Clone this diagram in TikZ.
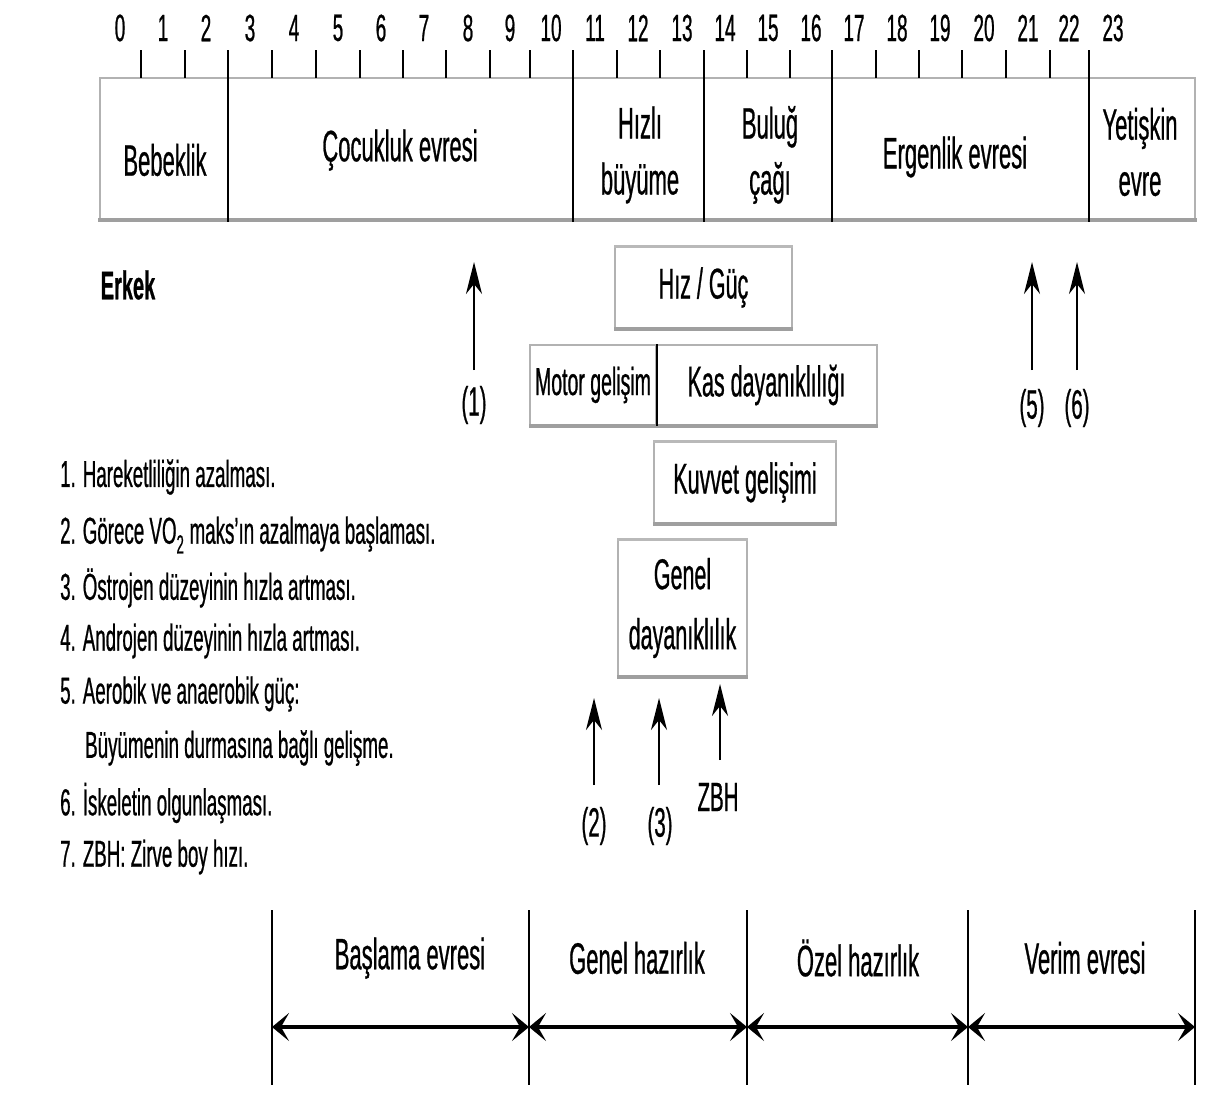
\documentclass[tikz,border=0pt]{standalone}
\usepackage{fontspec}
\setmainfont{Liberation Sans}[FakeStretch=0.5, FakeBold=0.6]
\usetikzlibrary{arrows.meta}
\tikzset{
  lbl/.style={font=\fontsize{44}{56}\selectfont, align=center, inner sep=0pt},
  num/.style={font=\fontsize{38}{42}\selectfont, inner sep=0pt},
  leg/.style={font=\fontsize{37.5}{42}\selectfont, anchor=west, inner sep=0pt},
  marklbl/.style={font=\fontsize{41}{46}\selectfont, inner sep=0pt},
  blk/.style={draw=gray!60, line width=1.2pt, inner sep=0pt, align=center,
    font=\fontsize{43}{60}\selectfont},
  topln/.style={gray!55, line width=3pt},
  botln/.style={gray!75, line width=4pt},
  uparr/.style={line width=2pt, -{Stealth[length=32pt,width=16pt,inset=10pt]}},
  phasearr/.style={line width=3.5pt,
    {Stealth[length=17pt,width=28pt,inset=8pt]}-{Stealth[length=17pt,width=28pt,inset=8pt]}},
}
\begin{document}
\begin{tikzpicture}[x=1pt,y=-1pt]
\useasboundingbox (0,0) rectangle (1206,1095);
% age scale
\draw[gray!60, line width=1.2pt] (100,220) -- (100,78) -- (1195,78) -- (1195,220);
\draw[botln] (98,220) -- (1197,220);
\foreach \x in {141,185,272,316,360,403,446,490,530,617,660,747,790,876,919,962,1006,1050}
  \draw[line width=1.2pt] (\x,50) -- (\x,78);
\foreach \x in {228,573,704,832,1089}
  \draw[line width=1.2pt] (\x,50) -- (\x,222);
\foreach \n/\x in {0/120,1/163,2/206,3/250,4/294,5/338,6/381,7/424,8/468,9/510,10/551,
  11/595,12/638,13/682,14/725,15/768,16/811,17/854,18/897,19/940,20/984,21/1028,22/1069,23/1113}
  \node[num] (n\n) at (\x,28) {\n};
\node[lbl] (bebek) at (165,160) {Bebeklik};
\node[lbl] (cocuk) at (400,150) {Çocukluk evresi};
\node[lbl] (hizli) at (640,155) {Hızlı\\büyüme};
\node[lbl] (bulug) at (770,155) {Buluğ\\çağı};
\node[lbl] (ergen) at (955,157) {Ergenlik evresi};
\node[lbl] (yetis) at (1140,152) {Yetişkin\\evre};
\node[lbl, font=\bfseries\fontsize{40}{46}\selectfont] (erkek) at (128,285) {Erkek};
% ability boxes
\node[blk, minimum width=177pt, minimum height=81pt] (hiz) at (703.5,287.5) {Hız / Güç};
\node[blk, minimum width=126pt, minimum height=80pt, font=\fontsize{39}{44}\selectfont] (motor) at (593,385) {Motor gelişim};
\node[blk, minimum width=221pt, minimum height=80pt] (kas) at (766.5,385) {Kas dayanıklılığı};
\node[blk, minimum width=182pt, minimum height=81pt] (kuvvet) at (745,482.5) {Kuvvet gelişimi};
\node[blk, minimum width=129pt, minimum height=136pt] (genel) at (682.5,608) {Genel\\dayanıklılık};
\draw[topln] (hiz.north west) -- (hiz.north east);
\draw[botln] (hiz.south west) -- (hiz.south east);
\draw[botln] (motor.south west) -- (kas.south east);
\draw[line width=2pt] (motor.north east) -- (motor.south east);
\draw[topln] (kuvvet.north west) -- (kuvvet.north east);
\draw[botln] (kuvvet.south west) -- (kuvvet.south east);
\draw[topln] (genel.north west) -- (genel.north east);
\draw[botln] (genel.south west) -- (genel.south east);
% markers
\node[marklbl] (m1) at (474,405) {(1)};
\node[marklbl] (m5) at (1032,408) {(5)};
\node[marklbl] (m6) at (1077,408) {(6)};
\node[marklbl] (m2) at (594,826) {(2)};
\node[marklbl] (m3) at (660,826) {(3)};
\node[marklbl] (zbh) at (718,797) {ZBH};
\coordinate (a1) at (474,370); \coordinate (b1) at (474,262);
\coordinate (a5) at (1032,370); \coordinate (b5) at (1032,262);
\coordinate (a6) at (1077,370); \coordinate (b6) at (1077,262);
\coordinate (a2) at (594,785); \coordinate (b2) at (594,698);
\coordinate (a3) at (659,785); \coordinate (b3) at (659,698);
\coordinate (az) at (720,760); \coordinate (bz) at (720,684);
\foreach \i in {1,5,6,2,3,z}
  \draw[uparr] (a\i) -- (b\i);
% legend
\node[leg] (leg1) at (60,477) {1. Hareketliliğin azalması.};
\node[leg] (leg2) at (60,535) {2. Görece VO\textsubscript{2} maks’ın azalmaya başlaması.};
\node[leg] (leg3) at (60,588) {3. Östrojen düzeyinin hızla artması.};
\node[leg] (leg4) at (60,641) {4. Androjen düzeyinin hızla artması.};
\node[leg] (leg5) at (60,694) {5. Aerobik ve anaerobik güç:};
\node[leg] (leg5b) at (85,748) {Büyümenin durmasına bağlı gelişme.};
\node[leg] (leg6) at (60,803) {6. İskeletin olgunlaşması.};
\node[leg] (leg7) at (60,857) {7. ZBH: Zirve boy hızı.};
% training phases
\foreach \i/\x in {0/272,1/529,2/747,3/968,4/1195} {
  \draw[line width=1.2pt] (\x,910) -- (\x,1085);
  \coordinate (p\i) at (\x,1027);
}
\foreach \i/\j in {0/1,1/2,2/3,3/4}
  \draw[phasearr] (p\i) -- (p\j);
\node[lbl] (ph1) at (410,958) {Başlama evresi};
\node[lbl] (ph2) at (637,958) {Genel hazırlık};
\node[lbl] (ph3) at (858,958) {Özel hazırlık};
\node[lbl] (ph4) at (1085,958) {Verim evresi};
\end{tikzpicture}
\end{document}
